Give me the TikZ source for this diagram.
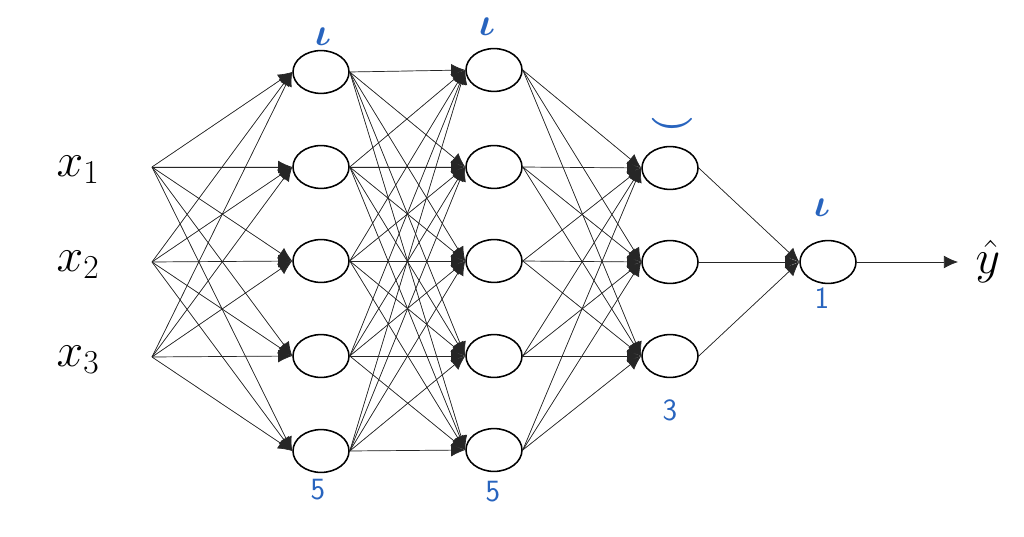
\RequirePackage{fix-cm}
\documentclass[tikz,border=0pt]{standalone}
\usepackage{tikz}
\usetikzlibrary{positioning, arrows.meta, shapes}
\usepackage{amsmath, amssymb}
\definecolor{handblue}{RGB}{40,100,190}

\begin{document}
\begin{tikzpicture}[x=0.025cm, y=-0.025cm,
	neuron/.style={draw, ellipse, line width=1.1pt, minimum width=1.4cm, minimum height=1.07cm, fill=white},
	link/.style={-{Latex[length=10pt,width=9pt]}, line width=0.5pt, draw=black!85, fill=black},
	hand/.style={text=handblue, font=\sffamily\fontsize{22}{22}\selectfont},
	handmark/.style={text=handblue, inner sep=1pt, font=\boldmath\fontsize{28}{28}\selectfont},
	inlabel/.style={font=\fontsize{34}{36}\selectfont}]
	
	%Frame
	\useasboundingbox (0,0) rectangle (1024,537);
	
	%Inputs
	\foreach \i/\y in {1/167,2/262,3/357}{
		\coordinate (in\i) at (152,\y);
		\node[inlabel] (x\i) at (78,\y+3) {$x_\i$};
	}
	
	%Layer one
	\foreach \i/\y in {1/72,2/167,3/261,4/356,5/451}
		\node[neuron] (h1n\i) at (321,\y) {};
	
	%Layer two
	\foreach \i/\y in {1/70,2/167,3/261,4/356,5/450}
		\node[neuron] (h2n\i) at (494,\y) {};
	
	%Layer three
	\foreach \i/\y in {1/168,2/262,3/356}
		\node[neuron] (h3n\i) at (670,\y) {};
	
	%Output unit
	\node[neuron] (out) at (828,262) {};
	
	%Links
	\foreach \i in {1,2,3}
		\foreach \j in {1,...,5}
			\draw[link] (in\i) -- (h1n\j.west);
	\foreach \i in {1,...,5}
		\foreach \j in {1,...,5}
			\draw[link] (h1n\i.east) -- (h2n\j.west);
	\foreach \i in {1,...,5}
		\foreach \j in {1,2,3}
			\draw[link] (h2n\i.east) -- (h3n\j.west);
	\foreach \i in {1,2,3}
		\draw[link] (h3n\i.east) -- (out.west);
	
	%Prediction
	\coordinate (yend) at (958,262);
	\draw[link] (out.east) -- (yend);
	\node[inlabel, right=9pt of yend] (yhat) {$\hat{y}$};
	
	%Handwritten notes
	\node[handmark] (top1) at (323,37) {$\iota$};
	\node[handmark] (top2) at (487,27) {$\iota$};
	\node[handmark] (top3) at (672,126) {$\smile$};
	\node[handmark] (top4) at (822,208) {$\iota$};
	\node[hand] (bot1) at (318,490) {5};
	\node[hand] (bot2) at (493,492) {5};
	\node[hand] (bot3) at (670,410) {3};
	\node[hand] (bot4) at (822,298) {1};
	
\end{tikzpicture}
\end{document}
